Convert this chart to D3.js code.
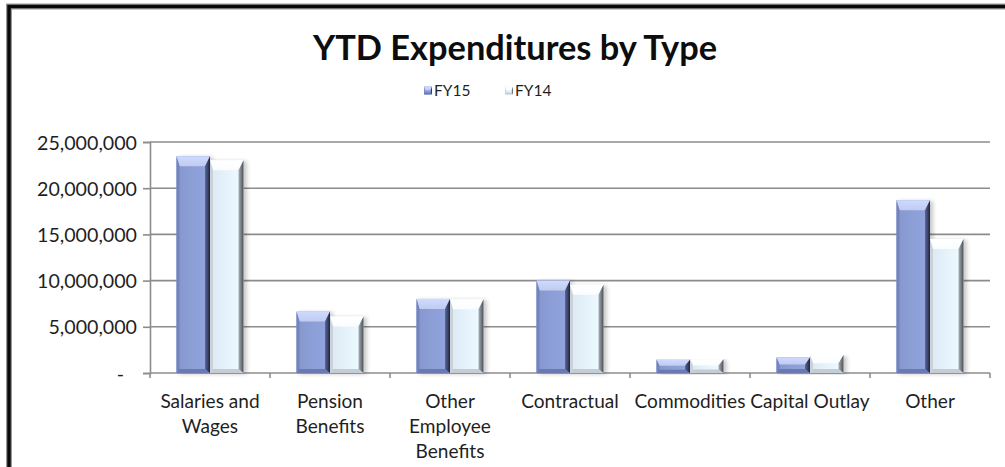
<!DOCTYPE html>
<html>
<head>
<meta charset="utf-8">
<script src="https://cdn.jsdelivr.net/npm/d3@7"></script>
<style>
  html, body { margin: 0; padding: 0; background: #fff; }
  svg { display: block; }
  text { font-family: Lato, "Open Sans", sans-serif; }
</style>
</head>
<body>
<svg id="chart" width="1005" height="467"></svg>
<script>
// Year-to-date expenditures by category, two fiscal years
const categories = ["Salaries and Wages", "Pension Benefits", "Other Employee Benefits",
                    "Contractual", "Commodities", "Capital Outlay", "Other"];
const categoryLines = [["Salaries and", "Wages"], ["Pension", "Benefits"], ["Other", "Employee", "Benefits"],
                       ["Contractual"], ["Commodities"], ["Capital Outlay"], ["Other"]];
const seriesNames = ["FY15", "FY14"];
const fy15 = [23470000, 6650000, 8020000, 10000000, 1440000, 1690000, 18700000];
const fy14 = [23030000, 6110000, 7980000, 9540000, 1500000, 1940000, 14500000];
const yTicks = [0, 5000000, 10000000, 15000000, 20000000, 25000000];
const titleText = "YTD Expenditures by Type";

const svg = d3.select("#chart");
const W = 1005, H = 467;
const plot = { left: 150, right: 990, top: 142, bottom: 373 };

// fit a font size so that a sample string spans a given width
function fitSize(sample, width, weight) {
  const t = svg.append("text").attr("font-size", 100).attr("font-weight", weight || "normal").text(sample);
  const w = t.node().getComputedTextLength();
  t.remove();
  return 100 * width / w;
}

// gradients for the bevelled bar faces
const defs = svg.append("defs");
const palettes = {
  FY15: { body: "#8c9ed6", top: "#c0cbef", left: "#7384bd", right: ["#5a689c", "#1f2538"], bottom: "#6a7ab0" },
  FY14: { body: "#e6f2fb", top: "#fafdff", left: "#c9d2da", right: ["#aab1b9", "#4a4f56"], bottom: "#c4ccd4" }
};
seriesNames.forEach(s => {
  const p = palettes[s];
  const gb = defs.append("linearGradient").attr("id", "body-" + s).attr("x1", 0).attr("x2", 1).attr("y1", 0).attr("y2", 0);
  gb.append("stop").attr("offset", "0%").attr("stop-color", d3.color(p.body).darker(0.12));
  gb.append("stop").attr("offset", "45%").attr("stop-color", p.body);
  gb.append("stop").attr("offset", "100%").attr("stop-color", d3.color(p.body).brighter(0.1));
  const gr = defs.append("linearGradient").attr("id", "right-" + s).attr("x1", 0).attr("x2", 1).attr("y1", 0).attr("y2", 0);
  gr.append("stop").attr("offset", "0%").attr("stop-color", p.right[0]);
  gr.append("stop").attr("offset", "100%").attr("stop-color", p.right[1]);
  const gt = defs.append("linearGradient").attr("id", "top-" + s).attr("x1", 0).attr("x2", 0).attr("y1", 0).attr("y2", 1);
  gt.append("stop").attr("offset", "0%").attr("stop-color", d3.color(p.top).brighter(0.2));
  gt.append("stop").attr("offset", "100%").attr("stop-color", p.top);
});
const shadow = defs.append("filter").attr("id", "shadow").attr("x", "-20%").attr("y", "-5%").attr("width", "160%").attr("height", "115%");
shadow.append("feGaussianBlur").attr("in", "SourceAlpha").attr("stdDeviation", 2);
shadow.append("feOffset").attr("dx", 3).attr("dy", 1).attr("result", "b");
shadow.append("feComponentTransfer").append("feFuncA").attr("type", "linear").attr("slope", 0.22);
const merge = shadow.append("feMerge");
merge.append("feMergeNode");
merge.append("feMergeNode").attr("in", "SourceGraphic");

// frame
svg.append("path").attr("d", `M9,${H} V6.5 H${W}`).attr("fill", "none")
  .attr("stroke", "#9a9a9a").attr("stroke-width", 6);
svg.append("path").attr("d", `M9,${H} V6.5 H${W}`).attr("fill", "none")
  .attr("stroke", "#0a0a0a").attr("stroke-width", 3.5);

// title
svg.append("text").attr("x", 515).attr("y", 60).attr("text-anchor", "middle")
  .attr("font-size", 34).attr("font-weight", "bold").attr("fill", "#0d0d0d")
  .attr("textLength", 404).attr("lengthAdjust", "spacingAndGlyphs").text(titleText);

// scales
const x0 = d3.scaleBand().domain(categories).range([plot.left, plot.right])
  .paddingInner(0.4417).paddingOuter(0.4417 / 2);
const x1 = d3.scaleBand().domain(seriesNames).range([0, x0.bandwidth()]);
const y = d3.scaleLinear().domain([0, 25000000]).range([plot.bottom, plot.top]);

// gridlines
svg.append("g").selectAll("line").data(yTicks.slice(1)).join("line")
  .attr("x1", plot.left).attr("x2", plot.right)
  .attr("y1", d => y(d)).attr("y2", d => y(d))
  .attr("stroke", "#8c8c8c").attr("stroke-width", 1.6);

// y axis
const labelSize = fitSize("25,000,000", 100);
const yAxis = svg.append("g").attr("transform", `translate(${plot.left},0)`)
  .call(d3.axisLeft(y).tickValues(yTicks).tickSize(7).tickPadding(6)
    .tickFormat(d => d === 0 ? "-" : d3.format(",")(d)));
yAxis.select(".domain").attr("stroke", "#8c8c8c").attr("stroke-width", 1.6);
yAxis.selectAll(".tick line").attr("stroke", "#8c8c8c").attr("stroke-width", 1.6);
yAxis.selectAll(".tick text").attr("font-size", labelSize).attr("font-family", "Lato, 'Open Sans', sans-serif")
  .attr("fill", "#1f1f1f").attr("dy", "0.36em")
  .attr("x", d => d === 0 ? -26 : -13);

// x axis with ticks at category boundaries
const bounds = d3.range(categories.length + 1).map(i => plot.left + i * x0.step());
svg.append("line").attr("x1", plot.left).attr("x2", plot.right).attr("y1", plot.bottom).attr("y2", plot.bottom)
  .attr("stroke", "#8c8c8c").attr("stroke-width", 1.6);
svg.append("g").selectAll("line").data(bounds).join("line")
  .attr("x1", d => d).attr("x2", d => d).attr("y1", plot.bottom).attr("y2", plot.bottom + 5)
  .attr("stroke", "#8c8c8c").attr("stroke-width", 1.6);

// category labels
const catSize = fitSize("Commodities", 111);
const catG = svg.append("g");
categories.forEach((c, i) => {
  const t = catG.append("text").attr("text-anchor", "middle").attr("font-size", catSize).attr("fill", "#1f1f1f");
  categoryLines[i].forEach((line, j) => {
    t.append("tspan").attr("x", x0(c) + x0.bandwidth() / 2).attr("y", 408 + j * 25).text(line);
  });
});

// bevelled bars
const rows = categories.map((c, i) => ({ cat: c, values: [
  { s: "FY15", v: fy15[i] }, { s: "FY14", v: fy14[i] }] }));

function drawBar(g, bx, by, bw, bh, s, plain) {
  const p = palettes[s];
  const bt = Math.min(10, bh / 2.2), bb = Math.min(4, bh / 4);
  const br = Math.min(5, bw / 6), bl = Math.min(3, bw / 10);
  const gg = g.append("g");
  if (!plain) gg.attr("filter", "url(#shadow)");
  gg.append("rect").attr("x", bx).attr("y", by).attr("width", bw).attr("height", bh).attr("fill", `url(#body-${s})`);
  const poly = pts => pts.map(q => q.join(",")).join(" ");
  gg.append("polygon").attr("points", poly([[bx, by], [bx + bw, by], [bx + bw - br, by + bt], [bx + bl, by + bt]]))
    .attr("fill", `url(#top-${s})`);
  gg.append("polygon").attr("points", poly([[bx, by], [bx + bl, by + bt], [bx + bl, by + bh - bb], [bx, by + bh]]))
    .attr("fill", p.left);
  gg.append("polygon").attr("points", poly([[bx, by + bh], [bx + bl, by + bh - bb], [bx + bw - br, by + bh - bb], [bx + bw, by + bh]]))
    .attr("fill", p.bottom);
  gg.append("polygon").attr("points", poly([[bx + bw, by], [bx + bw, by + bh], [bx + bw - br, by + bh - bb], [bx + bw - br, by + bt]]))
    .attr("fill", `url(#right-${s})`);
}

const barsG = svg.append("g");
rows.forEach(r => {
  r.values.forEach(d => {
    const bx = x0(r.cat) + x1(d.s), bw = x1.bandwidth();
    const by = y(d.v), bh = y(0) - y(d.v);
    drawBar(barsG, bx, by, bw, bh, d.s);
  });
});

// legend
const legend = svg.append("g");
const legendX = [424, 505];
seriesNames.forEach((s, i) => {
  drawBar(legend, legendX[i], 86.5, 8, 8, s, true);
  legend.append("text").attr("x", legendX[i] + 10).attr("y", 95.5).attr("font-size", 15.5)
    .attr("fill", "#1f1f1f").text(s);
});
</script>
</body>
</html>
